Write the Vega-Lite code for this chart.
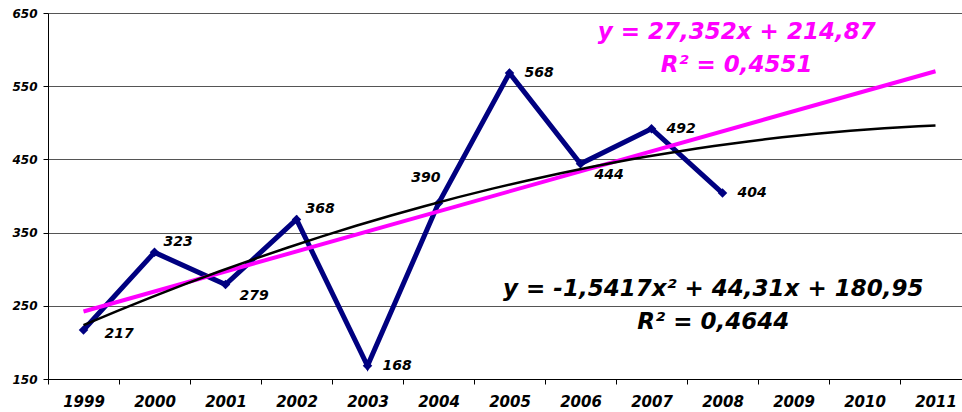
{
  "$schema": "https://vega.github.io/schema/vega-lite/v6.json",
  "autosize": "none",
  "padding": {"left": 48, "top": 13, "right": 0, "bottom": 33},
  "width": 923,
  "height": 366,
  "background": "white",
  "config": {
    "view": {"stroke": null},
    "font": "DejaVu Sans",
    "axis": {
      "labelFont": "DejaVu Sans",
      "labelFontWeight": "bold",
      "labelFontStyle": "italic",
      "labelColor": "black",
      "domainColor": "black",
      "tickColor": "black",
      "title": null
    }
  },
  "data": {
    "values": [
      {"year": "1999", "i": 1, "value": 217},
      {"year": "2000", "i": 2, "value": 323},
      {"year": "2001", "i": 3, "value": 279},
      {"year": "2002", "i": 4, "value": 368},
      {"year": "2003", "i": 5, "value": 168},
      {"year": "2004", "i": 6, "value": 390},
      {"year": "2005", "i": 7, "value": 568},
      {"year": "2006", "i": 8, "value": 444},
      {"year": "2007", "i": 9, "value": 492},
      {"year": "2008", "i": 10, "value": 404}
    ]
  },
  "encoding": {
    "y": {
      "field": "value",
      "type": "quantitative",
      "scale": {"domain": [150, 650], "nice": false, "zero": false},
      "axis": {
        "values": [150, 250, 350, 450, 550, 650],
        "labelFontSize": 12,
        "labelPadding": 6,
        "tickSize": 5,
        "grid": true,
        "gridColor": "#555555",
        "gridWidth": 1,
        "domainWidth": 1
      }
    }
  },
  "layer": [
    {
      "encoding": {
        "x": {
          "field": "year",
          "type": "ordinal",
          "scale": {
            "domain": ["1999", "2000", "2001", "2002", "2003", "2004", "2005", "2006", "2007", "2008", "2009", "2010", "2011"],
            "paddingInner": 0,
            "paddingOuter": 0
          },
          "axis": {
            "labelAngle": 0,
            "labelFontSize": 15,
            "labelPadding": 10,
            "tickBand": "extent",
            "tickSize": 5,
            "grid": false
          }
        }
      },
      "layer": [
        {"mark": {"type": "line", "color": "#000080", "strokeWidth": 5}},
        {"mark": {"type": "point", "shape": "diamond", "filled": true, "color": "#000080", "size": 90, "opacity": 1}},
        {
          "transform": [{"filter": {"field": "year", "oneOf": ["2003", "2005", "2007", "2008"]}}],
          "mark": {"type": "text", "align": "left", "baseline": "middle", "dx": 15, "fontSize": 14, "fontWeight": "bold", "fontStyle": "italic", "color": "black"},
          "encoding": {"text": {"field": "value"}}
        },
        {
          "transform": [{"filter": {"field": "year", "oneOf": ["2000", "2002"]}}],
          "mark": {"type": "text", "align": "left", "baseline": "middle", "dx": 9, "dy": -10, "fontSize": 14, "fontWeight": "bold", "fontStyle": "italic", "color": "black"},
          "encoding": {"text": {"field": "value"}}
        },
        {
          "transform": [{"filter": {"field": "year", "oneOf": ["2001", "2006"]}}],
          "mark": {"type": "text", "align": "left", "baseline": "middle", "dx": 14, "dy": 11, "fontSize": 14, "fontWeight": "bold", "fontStyle": "italic", "color": "black"},
          "encoding": {"text": {"field": "value"}}
        },
        {
          "transform": [{"filter": {"field": "year", "oneOf": ["1999"]}}],
          "mark": {"type": "text", "align": "left", "baseline": "middle", "dx": 21, "dy": 4, "fontSize": 14, "fontWeight": "bold", "fontStyle": "italic", "color": "black"},
          "encoding": {"text": {"field": "value"}}
        },
        {
          "transform": [{"filter": {"field": "year", "oneOf": ["2004"]}}],
          "mark": {"type": "text", "align": "right", "baseline": "middle", "dx": 2, "dy": -25, "fontSize": 14, "fontWeight": "bold", "fontStyle": "italic", "color": "black"},
          "encoding": {"text": {"field": "value"}}
        }
      ]
    },
    {
      "encoding": {
        "x": {
          "field": "i",
          "type": "quantitative",
          "scale": {"domain": [0.5, 13.5], "nice": false, "zero": false},
          "axis": null
        }
      },
      "layer": [
        {
          "transform": [{"regression": "value", "on": "i", "method": "linear", "extent": [1, 13]}],
          "mark": {"type": "line", "color": "#FF00FF", "strokeWidth": 4}
        },
        {
          "transform": [{"regression": "value", "on": "i", "method": "poly", "order": 2, "extent": [1, 13]}],
          "mark": {"type": "line", "color": "black", "strokeWidth": 2.5}
        },
        {
          "transform": [{"filter": {"field": "i", "equal": 1}}],
          "mark": {"type": "text", "align": "center", "baseline": "middle", "fontSize": 23, "fontWeight": "bold", "fontStyle": "italic", "color": "#FF00FF", "text": "y = 27,352x + 214,87"},
          "encoding": {"x": {"datum": 10.2}, "y": {"datum": 624}}
        },
        {
          "transform": [{"filter": {"field": "i", "equal": 1}}],
          "mark": {"type": "text", "align": "center", "baseline": "middle", "fontSize": 23, "fontWeight": "bold", "fontStyle": "italic", "color": "#FF00FF", "text": "R² = 0,4551"},
          "encoding": {"x": {"datum": 10.2}, "y": {"datum": 579}}
        },
        {
          "transform": [{"filter": {"field": "i", "equal": 1}}],
          "mark": {"type": "text", "align": "center", "baseline": "middle", "fontSize": 23, "fontWeight": "bold", "fontStyle": "italic", "color": "black", "text": "y = -1,5417x² + 44,31x + 180,95"},
          "encoding": {"x": {"datum": 9.87}, "y": {"datum": 273}}
        },
        {
          "transform": [{"filter": {"field": "i", "equal": 1}}],
          "mark": {"type": "text", "align": "center", "baseline": "middle", "fontSize": 23, "fontWeight": "bold", "fontStyle": "italic", "color": "black", "text": "R² = 0,4644"},
          "encoding": {"x": {"datum": 9.87}, "y": {"datum": 228}}
        }
      ]
    }
  ],
  "resolve": {"scale": {"x": "independent"}}
}
